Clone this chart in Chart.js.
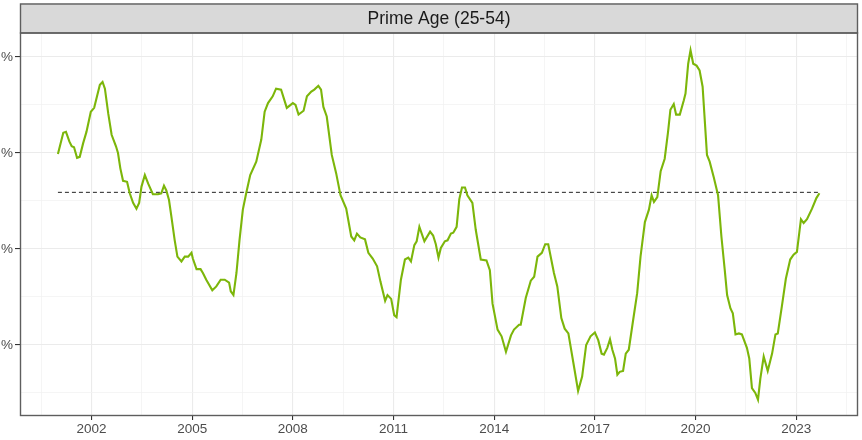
<!DOCTYPE html>
<html>
<head>
<meta charset="utf-8">
<script src="https://cdn.jsdelivr.net/npm/chart.js@4"></script>
<style>
  html, body { margin: 0; padding: 0; background: #fff; }
  #wrap { width: 862px; height: 440px; }
</style>
</head>
<body>
<div id="wrap"><canvas id="chart" width="862" height="440"></canvas></div>
<script>
// y units are relative (tick numbers are cut off in the reference)
const dates = [
  2001.00, 2001.16, 2001.24, 2001.34, 2001.41, 2001.48, 2001.57, 2001.65, 2001.75, 2001.85,
  2001.98, 2002.08, 2002.25, 2002.33, 2002.40, 2002.50, 2002.60, 2002.73, 2002.79, 2002.86,
  2002.94, 2003.06, 2003.14, 2003.24, 2003.34, 2003.42, 2003.49, 2003.59, 2003.69, 2003.83,
  2003.98, 2004.08, 2004.16, 2004.23, 2004.31, 2004.38, 2004.48, 2004.56, 2004.68, 2004.78,
  2004.88, 2004.98, 2005.02, 2005.13, 2005.25, 2005.32, 2005.42, 2005.60, 2005.72, 2005.85,
  2005.97, 2006.10, 2006.15, 2006.23, 2006.32, 2006.41, 2006.51, 2006.61, 2006.73, 2006.91,
  2007.06, 2007.16, 2007.26, 2007.40, 2007.50, 2007.65, 2007.82, 2008.00, 2008.08, 2008.17,
  2008.32, 2008.42, 2008.55, 2008.64, 2008.76, 2008.84, 2008.91, 2009.01, 2009.16, 2009.29,
  2009.42, 2009.59, 2009.74, 2009.83, 2009.91, 2010.01, 2010.15, 2010.25, 2010.38, 2010.51,
  2010.61, 2010.75, 2010.82, 2010.93, 2011.02, 2011.09, 2011.22, 2011.34, 2011.44, 2011.52,
  2011.62, 2011.69, 2011.77, 2011.92, 2012.09, 2012.18, 2012.26, 2012.34, 2012.41, 2012.53,
  2012.61, 2012.71, 2012.78, 2012.88, 2012.96, 2013.04, 2013.13, 2013.20, 2013.35, 2013.45,
  2013.60, 2013.77, 2013.87, 2013.95, 2014.10, 2014.22, 2014.35, 2014.50, 2014.59, 2014.74,
  2014.79, 2014.94, 2015.09, 2015.19, 2015.29, 2015.42, 2015.52, 2015.61, 2015.78, 2015.88,
  2016.00, 2016.10, 2016.21, 2016.38, 2016.50, 2016.62, 2016.74, 2016.87, 2017.00, 2017.10,
  2017.20, 2017.27, 2017.37, 2017.45, 2017.52, 2017.60, 2017.67, 2017.74, 2017.84, 2017.92,
  2018.01, 2018.14, 2018.26, 2018.36, 2018.49, 2018.61, 2018.69, 2018.76, 2018.86, 2018.96,
  2019.08, 2019.18, 2019.25, 2019.35, 2019.42, 2019.53, 2019.65, 2019.70, 2019.78, 2019.85,
  2019.93, 2020.03, 2020.12, 2020.21, 2020.34, 2020.42, 2020.54, 2020.67, 2020.77, 2020.87,
  2020.94, 2021.04, 2021.11, 2021.19, 2021.29, 2021.38, 2021.53, 2021.60, 2021.68, 2021.78,
  2021.86, 2021.93, 2022.03, 2022.15, 2022.28, 2022.38, 2022.45, 2022.57, 2022.69, 2022.82,
  2022.92, 2023.02, 2023.14, 2023.22, 2023.32, 2023.47, 2023.60, 2023.69
]
const primeAge = [
  1.99, 2.21, 2.22, 2.12, 2.07, 2.06, 1.95, 1.96, 2.10, 2.22,
  2.43, 2.47, 2.71, 2.74, 2.67, 2.41, 2.19, 2.07, 2.00, 1.84,
  1.71, 1.70, 1.58, 1.48, 1.42, 1.48, 1.65, 1.77, 1.68, 1.57,
  1.57, 1.58, 1.66, 1.61, 1.51, 1.34, 1.09, 0.92, 0.87, 0.92,
  0.92, 0.96, 0.90, 0.79, 0.79, 0.75, 0.68, 0.57, 0.61, 0.68,
  0.68, 0.65, 0.56, 0.52, 0.75, 1.09, 1.41, 1.58, 1.77, 1.91,
  2.14, 2.43, 2.52, 2.59, 2.67, 2.66, 2.47, 2.52, 2.50, 2.40,
  2.44, 2.59, 2.64, 2.66, 2.70, 2.66, 2.48, 2.38, 1.98, 1.79,
  1.56, 1.42, 1.13, 1.09, 1.16, 1.12, 1.10, 0.96, 0.90, 0.82,
  0.66, 0.46, 0.52, 0.48, 0.31, 0.29, 0.68, 0.89, 0.91, 0.87,
  1.04, 1.08, 1.23, 1.08, 1.18, 1.14, 1.05, 0.91, 1.01, 1.08,
  1.09, 1.16, 1.17, 1.23, 1.52, 1.64, 1.64, 1.56, 1.48, 1.20,
  0.89, 0.88, 0.78, 0.43, 0.16, 0.09, -0.07, 0.10, 0.16, 0.21,
  0.21, 0.49, 0.67, 0.71, 0.92, 0.96, 1.05, 1.05, 0.75, 0.61,
  0.28, 0.17, 0.12, -0.23, -0.48, -0.33, 0.00, 0.09, 0.13, 0.05,
  -0.09, -0.10, -0.03, 0.06, -0.05, -0.14, -0.31, -0.28, -0.27, -0.09,
  -0.05, 0.26, 0.54, 0.92, 1.28, 1.41, 1.56, 1.49, 1.54, 1.81,
  1.94, 2.22, 2.45, 2.51, 2.40, 2.40, 2.55, 2.62, 2.93, 3.07,
  2.93, 2.91, 2.86, 2.69, 1.98, 1.91, 1.75, 1.56, 1.13, 0.78,
  0.52, 0.38, 0.33, 0.11, 0.12, 0.11, -0.03, -0.14, -0.45, -0.50,
  -0.57, -0.35, -0.12, -0.27, -0.09, 0.11, 0.12, 0.40, 0.69, 0.89,
  0.94, 0.97, 1.31, 1.27, 1.31, 1.42, 1.53, 1.58
]
const refLevel = 1.59
const yearTicks = [2002, 2005, 2008, 2011, 2014, 2017, 2020, 2023]
const valueTicks = [0, 1, 2, 3]
const panelTitle = 'Prime Age (25-54)'

const linePoints = dates.map((d, i) => ({x: d, y: primeAge[i]}))
const refPoints = [{x: dates[0], y: refLevel}, {x: dates[dates.length - 1], y: refLevel}]

const FONT = '"Liberation Sans", Arial, sans-serif'

const isMajorX = v => yearTicks.some(t => Math.abs(t - v) < 1e-6)
const isMajorY = v => valueTicks.some(t => Math.abs(t - v) < 1e-6)

// grey strip on top + panel frame, ggplot style
const facetStrip = {
  id: 'facetStrip',
  afterDraw(chart) {
    const {ctx, chartArea} = chart
    const l = chartArea.left, r = chartArea.right
    ctx.save()
    ctx.fillStyle = '#D9D9D9'
    ctx.fillRect(l, 3.5, r - l, chartArea.top - 3.5)
    ctx.strokeStyle = '#5E5E5E'
    ctx.lineWidth = 1.4
    ctx.strokeRect(l + 0.5, 4, r - l - 1, chartArea.top - 4)
    ctx.strokeRect(l + 0.5, chartArea.top, r - l - 1, chartArea.bottom - chartArea.top - 0.5)
    ctx.fillStyle = '#1A1A1A'
    ctx.font = '17.5px ' + FONT
    ctx.textAlign = 'center'
    ctx.textBaseline = 'middle'
    ctx.fillText(panelTitle, (l + r) / 2, (3.5 + chartArea.top) / 2 + 1)
    ctx.restore()
  }
}

new Chart(document.getElementById('chart'), {
  type: 'line',
  data: {
    datasets: [
      {
        label: 'Prime Age',
        data: linePoints,
        borderColor: '#7CB60A',
        borderWidth: 2.1,
        pointRadius: 0,
        tension: 0,
        fill: false
      },
      {
        label: 'Reference',
        data: refPoints,
        borderColor: '#222222',
        borderWidth: 1,
        borderDash: [4, 3],
        pointRadius: 0,
        fill: false
      }
    ]
  },
  options: {
    responsive: false,
    animation: false,
    events: [],
    layout: {padding: {top: 33, right: 4, left: 0, bottom: 0}},
    plugins: {legend: {display: false}, tooltip: {enabled: false}},
    scales: {
      x: {
        type: 'linear',
        min: 1999.87,
        max: 2024.84,
        afterBuildTicks: scale => {
          const t = []
          for (let v = 2000.5; v < 2024.84; v += 1.5) t.push({value: v})
          scale.ticks = t
        },
        afterFit: scale => { scale.height = 24 },
        border: {display: false},
        grid: {
          color: ctx => isMajorX(ctx.tick.value) ? '#EBEBEB' : '#F2F2F2',
          lineWidth: ctx => isMajorX(ctx.tick.value) ? 1.1 : 0.8,
          tickColor: ctx => isMajorX(ctx.tick.value) ? '#333333' : 'rgba(0,0,0,0)',
          tickLength: 4
        },
        ticks: {
          autoSkip: false,
          maxRotation: 0,
          padding: 1,
          color: '#4D4D4D',
          font: {family: FONT, size: 13.5},
          callback: v => isMajorX(v) ? String(v) : ''
        }
      },
      y: {
        type: 'linear',
        min: -0.74,
        max: 3.25,
        afterBuildTicks: scale => {
          const t = []
          for (let v = -0.5; v <= 3.0; v += 0.5) t.push({value: v})
          scale.ticks = t
        },
        afterFit: scale => { scale.width = 20 },
        border: {display: false},
        grid: {
          color: ctx => isMajorY(ctx.tick.value) ? '#EBEBEB' : '#F2F2F2',
          lineWidth: ctx => isMajorY(ctx.tick.value) ? 1.1 : 0.8,
          tickColor: ctx => isMajorY(ctx.tick.value) ? '#333333' : 'rgba(0,0,0,0)',
          tickLength: 5
        },
        ticks: {
          autoSkip: false,
          padding: 2,
          color: '#4D4D4D',
          font: {family: FONT, size: 13.5},
          callback: v => isMajorY(v) ? '%' : ''
        }
      }
    }
  },
  plugins: [facetStrip]
})
</script>
</body>
</html>
